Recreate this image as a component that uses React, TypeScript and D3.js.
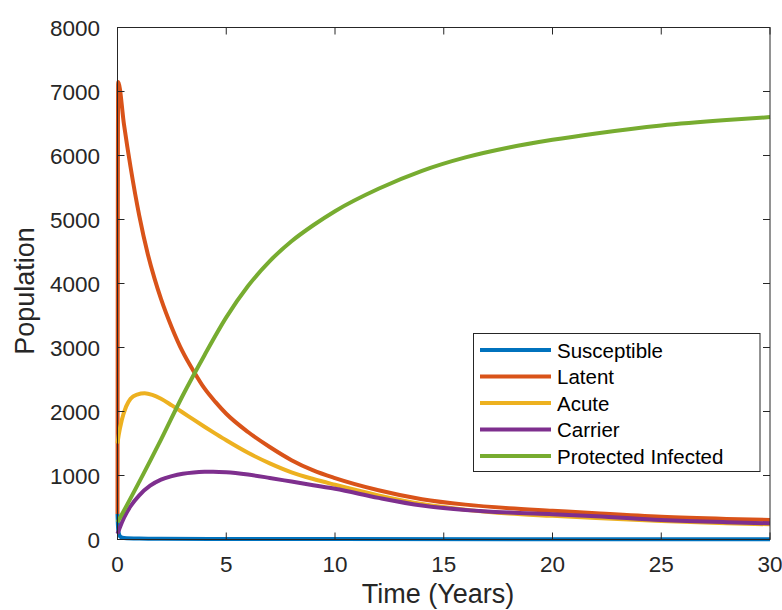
import React from "react";
import * as d3 from "d3";

const seriesNames = ["Susceptible", "Latent", "Acute", "Carrier", "Protected Infected"];
const seriesColors = ["#0072BD", "#D95319", "#EDB120", "#7E2F8E", "#77AC30"];

const susceptible: [number, number][] = [
  [0, 400], [0.03, 160], [0.08, 70], [0.15, 40], [0.3, 25], [1, 15], [2, 11], [5, 8], [10, 6], [20, 5], [30, 5],
];
const latent: [number, number][] = [
  [0, 400], [0.03, 7150], [0.3, 6480], [0.6, 5820], [1, 5060], [1.4, 4450], [1.7, 4080], [2, 3760],
  [2.5, 3310], [3, 2930], [3.5, 2630], [4, 2360], [4.5, 2150], [5, 1965], [6, 1680], [7, 1445], [8, 1240],
  [9, 1080], [10, 960], [12, 770], [14, 630], [16, 545], [18, 490], [20, 450], [22, 410], [25, 356],
  [28, 322], [30, 305],
];
const acute: [number, number][] = [
  [0, 1500], [0.05, 1620], [0.2, 1870], [0.4, 2080], [0.6, 2200], [0.9, 2265], [1.25, 2285], [1.6, 2260],
  [2, 2200], [2.5, 2095], [3, 1985], [3.5, 1872], [4, 1762], [4.5, 1655], [5, 1550], [6, 1355], [7, 1190],
  [8, 1050], [9, 945], [10, 855], [12, 690], [14, 555], [16, 465], [18, 405], [20, 370], [22, 335], [25, 290],
  [28, 255], [30, 237],
];
const carrier: [number, number][] = [
  [0, 90], [0.1, 180], [0.3, 340], [0.6, 520], [1, 690], [1.5, 840], [2, 935], [2.5, 990], [3, 1028],
  [3.5, 1048], [4, 1058], [4.4, 1060], [5, 1052], [6, 1015], [7, 962], [8, 905], [9, 848], [10, 792], [12, 650],
  [14, 530], [16, 460], [18, 420], [20, 395], [22, 365], [25, 305], [28, 270], [30, 253],
];
const protectedInfected: [number, number][] = [
  [0, 270], [0.05, 300], [1, 900], [2, 1560], [3, 2250], [4, 2880], [5, 3470], [6, 3960], [7, 4350],
  [8, 4660], [9, 4910], [10, 5130], [12, 5480], [14, 5760], [16, 5970], [18, 6125], [20, 6245],
  [22, 6345], [25, 6470], [28, 6555], [30, 6600],
];
const seriesData = [susceptible, latent, acute, carrier, protectedInfected];

const xTicks = [0, 5, 10, 15, 20, 25, 30];
const yTicks = [0, 1000, 2000, 3000, 4000, 5000, 6000, 7000, 8000];

const W = 782;
const H = 610;
const left = 117.5;
const right = 770;
const top = 27.5;
const bottom = 539.5;
const axisColor = "#262626";
const font = "'Liberation Sans', Arial, Helvetica, sans-serif";

export default function App() {
  const x = d3.scaleLinear().domain([0, 30]).range([left, right]);
  const y = d3.scaleLinear().domain([0, 8000]).range([bottom, top]);
  const line = d3
    .line<[number, number]>()
    .x((d) => x(d[0]))
    .y((d) => y(d[1]))
    .curve(d3.curveMonotoneX);
  const tickLen = 7;

  const legX = 473.5;
  const legY = 333.5;
  const legW = 286.5;
  const legH = 138;
  const rowH = 26.5;

  return (
    <svg
      width={W}
      height={H}
      style={{ position: "absolute", left: 0, top: 0, background: "#fff" }}
      fontFamily={font}
    >
      <rect x={0} y={0} width={W} height={H} fill="#fff" />
      {seriesData.map((d, i) => (
        <path
          key={seriesNames[i]}
          d={line(d) || ""}
          fill="none"
          stroke={seriesColors[i]}
          strokeWidth={4}
          strokeLinejoin="round"
        />
      ))}
      <rect x={left} y={top} width={right - left} height={bottom - top} fill="none" stroke={axisColor} strokeWidth={1} />
      {xTicks.map((t) => (
        <g key={"x" + t}>
          <line x1={x(t)} x2={x(t)} y1={bottom} y2={bottom - tickLen} stroke={axisColor} />
          <line x1={x(t)} x2={x(t)} y1={top} y2={top + tickLen} stroke={axisColor} />
          <text x={x(t)} y={572} textAnchor="middle" fontSize={22.5} fill={axisColor}>
            {t}
          </text>
        </g>
      ))}
      {yTicks.map((t) => (
        <g key={"y" + t}>
          <line x1={left} x2={left + tickLen} y1={y(t)} y2={y(t)} stroke={axisColor} />
          <line x1={right} x2={right - tickLen} y1={y(t)} y2={y(t)} stroke={axisColor} />
          <text x={100} y={y(t) + 8} textAnchor="end" fontSize={22.5} fill={axisColor}>
            {t}
          </text>
        </g>
      ))}
      <text x={438} y={603} textAnchor="middle" fontSize={27} fill={axisColor}>
        Time (Years)
      </text>
      <text
        transform={`translate(34, 291) rotate(-90)`}
        textAnchor="middle"
        fontSize={27}
        fill={axisColor}
      >
        Population
      </text>
      <rect x={legX} y={legY} width={legW} height={legH} fill="#fff" stroke={axisColor} strokeWidth={1} />
      {seriesNames.map((name, i) => {
        const cy = 350 + i * rowH;
        return (
          <g key={"leg" + name}>
            <line x1={480} x2={551} y1={cy} y2={cy} stroke={seriesColors[i]} strokeWidth={4} />
            <text x={557} y={cy + 7.5} fontSize={20.5} fill="#000">
              {name}
            </text>
          </g>
        );
      })}
    </svg>
  );
}
